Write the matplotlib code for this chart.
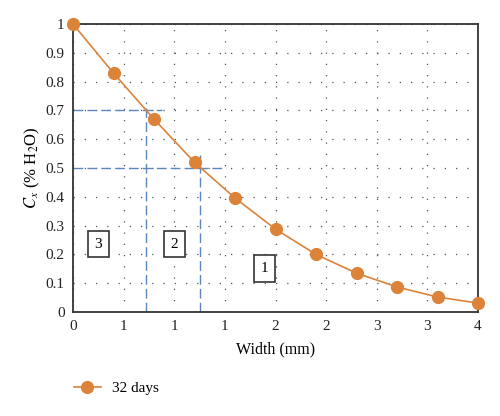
import matplotlib
matplotlib.use("Agg")
import matplotlib.pyplot as plt
from matplotlib.lines import Line2D

width_mm = [0.0, 0.4, 0.8, 1.2, 1.6, 2.0, 2.4, 2.8, 3.2, 3.6, 4.0]
cx = [1.0, 0.83, 0.67, 0.52, 0.396, 0.288, 0.20, 0.135, 0.087, 0.052, 0.031]
x_ticks = [0, 0.5, 1.0, 1.5, 2.0, 2.5, 3.0, 3.5, 4.0]
x_tick_labels = ["0", "1", "1", "1", "2", "2", "3", "3", "4"]
y_ticks = [0, 0.1, 0.2, 0.3, 0.4, 0.5, 0.6, 0.7, 0.8, 0.9, 1.0]
y_tick_labels = ["0", "0.1", "0.2", "0.3", "0.4", "0.5", "0.6", "0.7", "0.8", "0.9", "1"]
guide_levels = [0.7, 0.5]
guide_x = [0.72, 1.25]
guide_h_end = [0.88, 1.51]
guide_v_top = [0.73, 0.545]
zone_labels = ["3", "2", "1"]
zone_x = [0.25, 1.0, 1.89]
zone_y = [0.236, 0.236, 0.15]

plt.rcParams['font.family'] = ['Liberation Serif', 'DejaVu Serif']
plt.rcParams['mathtext.fontset'] = 'stix'

orange = '#DC833A'
blue = '#5B86C0'

fig = plt.figure(figsize=(5, 4.16), dpi=100)
ax = fig.add_axes([0.146, 0.25, 0.81, 0.692])

ax.set_xlim(0, 4)
ax.set_ylim(0, 1)
ax.set_xticks(x_ticks)
ax.set_xticklabels(x_tick_labels)
ax.set_yticks(y_ticks)
ax.set_yticklabels(y_tick_labels)
ax.tick_params(length=0, labelsize=11, pad=6, colors='#222222')
ax.grid(True, color='#555555', linestyle=(0, (1, 8)), linewidth=0.9)
for s in ax.spines.values():
    s.set_color('#333333')
    s.set_linewidth(1.3)

for lev, xe in zip(guide_levels, guide_h_end):
    ax.plot([0, xe], [lev, lev], color=blue, linestyle=(0, (7, 3)), linewidth=1.0)
for xv, yt in zip(guide_x, guide_v_top):
    ax.plot([xv, xv], [0, yt], color=blue, linestyle=(0, (7, 3)), linewidth=1.0)

ax.plot(width_mm, cx, color=orange, linewidth=1.2, marker='o', markersize=8.5,
        clip_on=False, zorder=5)

for lab, xv, yv in zip(zone_labels, zone_x, zone_y):
    ax.text(xv, yv, lab, ha='center', va='center', fontsize=11,
            bbox=dict(boxstyle='square,pad=0.45', facecolor='white',
                      edgecolor='#333333', linewidth=1.2))

ax.set_xlabel('Width (mm)', fontsize=11.5, labelpad=6)
ax.set_ylabel(r'$C_x$ (% H$_2$O)', fontsize=12, labelpad=3)

handle = Line2D([], [], color=orange, linewidth=1.2, marker='o', markersize=8.5)
fig.legend([handle], ['32 days'], loc='center left', bbox_to_anchor=(0.147, 0.067),
           frameon=False, fontsize=11, handlelength=1.8, handletextpad=0.7,
           borderaxespad=0, borderpad=0)

fig.savefig('out.png', dpi=100)
